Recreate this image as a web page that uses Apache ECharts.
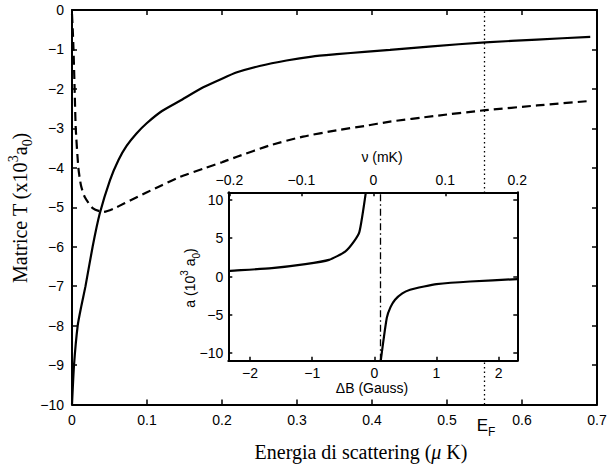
<!DOCTYPE html>
<html>
<head>
<meta charset="utf-8">
<script src="https://cdn.jsdelivr.net/npm/echarts@6/dist/echarts.min.js"></script>
<style>
  html, body { margin: 0; padding: 0; background: #fff; }
  #chart { width: 610px; height: 466px; }
</style>
</head>
<body>
<div id="chart"></div>
<script>
// main panel: T matrix (x10^3 a0) vs scattering energy (muK)
const solidEnergy = [0, 0.0027, 0.0076, 0.0125, 0.018, 0.0275, 0.037, 0.0507, 0.062, 0.073, 0.086, 0.0996, 0.12, 0.144, 0.175, 0.2, 0.22, 0.25, 0.286, 0.32, 0.353, 0.39, 0.424, 0.48, 0.551, 0.62, 0.691]
const solidT = [-10, -9, -8, -7.5, -7, -6, -5.16, -4.31, -3.8, -3.44, -3.13, -2.87, -2.56, -2.3, -1.96, -1.74, -1.58, -1.42, -1.28, -1.18, -1.12, -1.06, -1.01, -0.92, -0.82, -0.75, -0.68]
const dashedEnergy = [0, 0.001, 0.002, 0.0035, 0.005, 0.0085, 0.012, 0.017, 0.028, 0.042, 0.055, 0.07, 0.085, 0.1, 0.12, 0.144, 0.175, 0.2, 0.22, 0.264, 0.308, 0.353, 0.39, 0.424, 0.482, 0.551, 0.62, 0.688]
const dashedT = [-0.1, -0.5, -1, -2, -3, -4, -4.45, -4.74, -5.03, -5.12, -5.04, -4.9, -4.76, -4.62, -4.44, -4.23, -4.02, -3.86, -3.72, -3.43, -3.21, -3.05, -2.94, -2.83, -2.69, -2.54, -2.42, -2.31]
const fermiEnergy = 0.55

// inset: scattering length a (10^3 a0) vs detuning dB (Gauss)
const leftDeltaB = [-2.35, -2.32, -1.65, -1.11, -0.73, -0.47, -0.33, -0.24, -0.137]
const leftA = [0.72, 0.74, 1.09, 1.61, 2.17, 3.25, 4.55, 5.84, 11]
const rightDeltaB = [0.103, 0.2, 0.26, 0.333, 0.45, 0.575, 0.8, 1.0, 1.54, 2.3]
const rightA = [-11, -5.4, -4.0, -3.03, -2.2, -1.73, -1.3, -0.99, -0.65, -0.34]
const resonanceB = 0.1
const deltaBTicks = [-2, -1, 0, 1, 2]
const nuTicks = [-0.2, -0.1, 0, 0.1, 0.2]
const aTicks = [-10, -5, 0, 5, 10]

const zip = (xs, ys) => xs.map((x, i) => [x, ys[i]])
const fmt = v => String(v).replace('-', '\u2212')

const sans = 'Liberation Sans'
const serif = 'Liberation Serif'
const black = '#000'

function mainAxis(extra) {
  return Object.assign({
    type: 'value',
    gridIndex: 0,
    axisLine: { onZero: false, lineStyle: { color: black, width: 2 } },
    axisTick: { inside: true, length: 5, lineStyle: { color: black, width: 1.5 } },
    axisLabel: { color: black, fontFamily: sans, fontSize: 14, margin: 8, formatter: fmt },
    splitLine: { show: false }
  }, extra)
}

function insetAxis(ticks, extra) {
  return Object.assign({
    type: 'value',
    gridIndex: 1,
    z: 11,
    axisLine: { onZero: false, lineStyle: { color: black, width: 2 } },
    axisTick: { inside: true, length: 4, customValues: ticks, lineStyle: { color: black, width: 1.5 } },
    axisLabel: { color: black, fontFamily: sans, fontSize: 14, margin: 5, customValues: ticks, formatter: fmt },
    splitLine: { show: false }
  }, extra)
}

const chart = echarts.init(document.getElementById('chart'), null, { renderer: 'svg' })

chart.setOption({
  animation: false,
  backgroundColor: '#fff',
  grid: [
    { left: 72, top: 10, width: 525, height: 394.5 },
    { left: 228.3, top: 192.3, width: 289, height: 168.4, show: true, backgroundColor: '#fff', borderWidth: 0, z: 10 }
  ],
  xAxis: [
    mainAxis({ min: 0, max: 0.7, interval: 0.1 }),
    mainAxis({ min: 0, max: 0.7, interval: 0.1, position: 'top', axisLabel: { show: false } }),
    insetAxis(deltaBTicks, { min: -2.35, max: 2.3 }),
    insetAxis(nuTicks, { min: -0.2015, max: 0.2, position: 'top' })
  ],
  yAxis: [
    mainAxis({ min: -10, max: 0, interval: 1 }),
    mainAxis({ min: -10, max: 0, interval: 1, position: 'right', axisLabel: { show: false } }),
    insetAxis(aTicks, { min: -11, max: 11 }),
    insetAxis(aTicks, { min: -11, max: 11, position: 'right', axisLabel: { show: false } })
  ],
  series: [
    {
      type: 'line',
      xAxisIndex: 0, yAxisIndex: 0,
      data: zip(solidEnergy, solidT),
      showSymbol: false,
      smooth: 0.2,
      lineStyle: { color: black, width: 2.2 }
    },
    {
      type: 'line',
      xAxisIndex: 0, yAxisIndex: 0,
      data: zip(dashedEnergy, dashedT),
      showSymbol: false,
      smooth: 0.2,
      lineStyle: { color: black, width: 2.2, type: [9, 5] },
      markLine: {
        silent: true,
        symbol: ['none', 'none'],
        label: { show: false },
        lineStyle: { color: black, width: 1.3, type: [1.5, 3] },
        data: [{ xAxis: fermiEnergy }]
      }
    },
    {
      type: 'line',
      xAxisIndex: 2, yAxisIndex: 2,
      z: 12,
      data: zip(leftDeltaB, leftA),
      showSymbol: false,
      smooth: 0.2,
      lineStyle: { color: black, width: 2.2 }
    },
    {
      type: 'line',
      xAxisIndex: 2, yAxisIndex: 2,
      z: 12,
      data: zip(rightDeltaB, rightA),
      showSymbol: false,
      smooth: 0.2,
      lineStyle: { color: black, width: 2.2 },
      markLine: {
        silent: true,
        z: 13,
        symbol: ['none', 'none'],
        label: { show: false },
        lineStyle: { color: black, width: 1.3, type: [7, 3, 1.5, 3] },
        data: [{ xAxis: resonanceB }]
      }
    }
  ],
  graphic: [
    {
      type: 'text', x: 361, y: 452, z: 20,
      style: {
        text: '{n|Energia di scattering (}{m|\u03bc}{n| K)}',
        align: 'center', verticalAlign: 'middle',
        rich: {
          n: { fontFamily: serif, fontSize: 20, fill: black },
          m: { fontFamily: serif, fontSize: 20, fontStyle: 'italic', fill: black }
        }
      }
    },
    {
      type: 'text', x: 20, y: 208, rotation: Math.PI / 2, z: 20,
      style: {
        text: '{n|Matrice T (x10}{sup|3}{n|a}{sub|0}{n|)}',
        align: 'center', verticalAlign: 'middle',
        rich: {
          n: { fontFamily: serif, fontSize: 20, fill: black, lineHeight: 28 },
          sup: { fontFamily: serif, fontSize: 14, fill: black, verticalAlign: 'top' },
          sub: { fontFamily: serif, fontSize: 14, fill: black, verticalAlign: 'bottom' }
        }
      }
    },
    {
      type: 'text', x: 382, y: 157, z: 20,
      style: { text: '\u03bd (mK)', fontFamily: sans, fontSize: 14, fill: black, align: 'center', verticalAlign: 'middle' }
    },
    {
      type: 'text', x: 372, y: 388, z: 20,
      style: { text: '\u0394B (Gauss)', fontFamily: sans, fontSize: 14, fill: black, align: 'center', verticalAlign: 'middle' }
    },
    {
      type: 'text', x: 190, y: 278, rotation: Math.PI / 2, z: 20,
      style: {
        text: '{n|a (10}{sup|3}{n| a}{sub|0}{n|)}',
        align: 'center', verticalAlign: 'middle',
        rich: {
          n: { fontFamily: sans, fontSize: 14, fill: black, lineHeight: 22 },
          sup: { fontFamily: sans, fontSize: 10, fill: black, verticalAlign: 'top' },
          sub: { fontFamily: sans, fontSize: 10, fill: black, verticalAlign: 'bottom' }
        }
      }
    },
    {
      type: 'text', x: 486, y: 425, z: 20,
      style: {
        text: '{e|E}{f|F}',
        align: 'center', verticalAlign: 'middle',
        rich: {
          e: { fontFamily: sans, fontSize: 17, fill: black, lineHeight: 26 },
          f: { fontFamily: sans, fontSize: 12, fill: black, verticalAlign: 'bottom' }
        }
      }
    }
  ]
})
</script>
</body>
</html>
